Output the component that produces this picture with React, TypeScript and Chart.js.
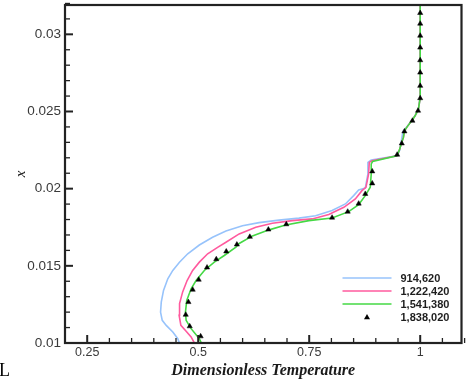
import React, { useEffect, useRef } from "react";
import { Chart, registerables } from "chart.js";

Chart.register(...registerables);

// ---- Data (Dimensionless Temperature, x) ----
const seriesNames = ["914,620", "1,222,420", "1,541,380", "1,838,020"];
const seriesColors = ["#97C3FB", "#FF5A9E", "#45D845", "#000000"];

const mesh914620: [number, number][] = [
  [0.4578, 0.0100], [0.4540, 0.01028], [0.4428, 0.01071], [0.4280, 0.01114],
  [0.4190, 0.01147], [0.4152, 0.0120], [0.4168, 0.01265], [0.4219, 0.01341],
  [0.4315, 0.01416], [0.4428, 0.0147], [0.4578, 0.01523], [0.4764, 0.01578],
  [0.5026, 0.01635], [0.5324, 0.01685], [0.5625, 0.01725], [0.5997, 0.01760],
  [0.6372, 0.01780], [0.6820, 0.01796], [0.7268, 0.01809], [0.7643, 0.01825],
  [0.8015, 0.01858], [0.8315, 0.01901], [0.8501, 0.01955], [0.8614, 0.01991],
  [0.8763, 0.02004], [0.8822, 0.02095], [0.8822, 0.02170], [0.8897, 0.02185],
  [0.9473, 0.02213], [0.9540, 0.02250], [0.9570, 0.02300], [0.9610, 0.02370],
  [0.9720, 0.02407], [0.9809, 0.0244], [0.9884, 0.02472], [0.9959, 0.02515],
  [1.0, 0.0259], [1.0, 0.0319],
];

const mesh1222420: [number, number][] = [
  [0.4914, 0.0100], [0.4840, 0.01039], [0.4728, 0.01076], [0.4610, 0.01114],
  [0.4570, 0.01180], [0.4580, 0.01255], [0.4650, 0.01331], [0.4750, 0.01405],
  [0.4875, 0.0147], [0.5026, 0.01524], [0.5213, 0.01578], [0.5437, 0.0162],
  [0.5625, 0.01653], [0.5923, 0.01707], [0.6297, 0.0175], [0.6670, 0.01776],
  [0.7118, 0.01793], [0.7567, 0.01804], [0.7941, 0.01832], [0.8280, 0.01879],
  [0.8539, 0.01933], [0.8688, 0.01987], [0.8778, 0.02008], [0.8838, 0.02095],
  [0.8853, 0.0217], [0.8912, 0.02181], [0.9473, 0.02213], [0.9526, 0.02246],
  [0.9585, 0.0230], [0.9622, 0.02332], [0.9645, 0.02375], [0.9720, 0.02407],
  [0.9809, 0.0244], [0.9884, 0.02472], [0.9959, 0.02515], [1.0, 0.0259],
  [1.0, 0.0319],
];

const mesh1541380: [number, number][] = [
  [0.5070, 0.0100], [0.5026, 0.01028], [0.4840, 0.01093], [0.4728, 0.01147],
  [0.4713, 0.0120], [0.4742, 0.01276], [0.4840, 0.01351], [0.4952, 0.01405],
  [0.5138, 0.0147], [0.5363, 0.01524], [0.5587, 0.01567], [0.5849, 0.01621],
  [0.5923, 0.01645], [0.6222, 0.01694], [0.6596, 0.01733], [0.6970, 0.01765],
  [0.7493, 0.01793], [0.8015, 0.0181], [0.8389, 0.01851], [0.8614, 0.01897],
  [0.8763, 0.01955], [0.8875, 0.02009], [0.8897, 0.02095], [0.8897, 0.0216],
  [0.8927, 0.02176], [0.9473, 0.02213], [0.9526, 0.02246], [0.9585, 0.0230],
  [0.9622, 0.02332], [0.9645, 0.02375], [0.9720, 0.02407], [0.9809, 0.0244],
  [0.9884, 0.02472], [0.9959, 0.02515], [1.0, 0.0259], [1.0, 0.0319],
];

const mesh1838020: [number, number][] = [
  [0.5055, 0.01043], [0.4809, 0.01108], [0.4719, 0.01183], [0.4780, 0.01265],
  [0.4876, 0.01345], [0.5011, 0.0141], [0.5199, 0.01489], [0.5407, 0.01543],
  [0.5632, 0.01593], [0.5871, 0.01638], [0.6163, 0.01688], [0.6580, 0.01735],
  [0.6984, 0.01769], [0.8015, 0.01812], [0.8367, 0.01851], [0.8614, 0.01903],
  [0.8763, 0.01966], [0.8920, 0.02034], [0.8920, 0.02112], [0.9481, 0.0222],
  [0.9585, 0.02293], [0.9645, 0.02371], [0.9824, 0.0244], [0.9952, 0.02505],
  [1.0, 0.02586], [1.0, 0.02666], [1.0, 0.02752], [1.0, 0.02832],
  [1.0, 0.02914], [1.0, 0.02991], [1.0, 0.03069], [1.0, 0.03138],
];

const xMajorTicks = [0.25, 0.5, 0.75, 1];
const xTickLabels = ["0.25", "0.5", "0.75", "1"];
const yMajorTicks = [0.01, 0.015, 0.02, 0.025, 0.03];
const yTickLabels = ["0.01", "0.015", "0.02", "0.025", "0.03"];
const xMinorStep = 0.05;
const yMinorStep = 0.001;
const xMin = 0.2;
const xMax = 1.093;
const yMin = 0.01;
const yMax = 0.0319;

const xTitle = "Dimensionless Temperature";
const yTitle = "x";

const toPoints = (arr: [number, number][]) => arr.map(([x, y]) => ({ x, y }));

const framePlugin = {
  id: "tecframe",
  afterDatasetsDraw(chart: any) {
    const { ctx, chartArea, scales } = chart;
    const { left, right, top, bottom } = chartArea;
    const xs = scales.x;
    const ys = scales.y;
    ctx.save();
    ctx.strokeStyle = "#222";
    ctx.lineCap = "butt";
    const isMajor = (v: number, majors: number[], eps: number) =>
      majors.some((m) => Math.abs(m - v) < eps);
    ctx.lineWidth = 1.3;
    const nx = Math.round((xMax - xMin) / xMinorStep);
    for (let i = 1; i <= nx; i++) {
      const v = xMin + i * xMinorStep;
      if (isMajor(v, xMajorTicks, 1e-6)) continue;
      const px = xs.getPixelForValue(v);
      ctx.beginPath();
      ctx.moveTo(px, bottom);
      ctx.lineTo(px, bottom - 5);
      ctx.stroke();
    }
    const ny = Math.round((yMax - yMin) / yMinorStep);
    for (let i = 1; i <= ny; i++) {
      const v = yMin + i * yMinorStep;
      if (isMajor(v, yMajorTicks, 1e-7)) continue;
      const py = ys.getPixelForValue(v);
      ctx.beginPath();
      ctx.moveTo(left, py);
      ctx.lineTo(left + 5, py);
      ctx.stroke();
    }
    ctx.lineWidth = 2;
    xMajorTicks.forEach((v) => {
      const px = xs.getPixelForValue(v);
      ctx.beginPath();
      ctx.moveTo(px, bottom);
      ctx.lineTo(px, bottom - 8);
      ctx.stroke();
    });
    yMajorTicks.forEach((v) => {
      const py = ys.getPixelForValue(v);
      ctx.beginPath();
      ctx.moveTo(left, py);
      ctx.lineTo(left + 8, py);
      ctx.stroke();
    });
    ctx.lineWidth = 2.2;
    ctx.strokeRect(left, top, right - left, bottom - top);

    // legend, in series order
    const ds = chart.data.datasets;
    const rowY = [bottom - 65, bottom - 52, bottom - 39, bottom - 26];
    const lx0 = right - 119;
    const lx1 = right - 70;
    const tx = right - 61;
    ctx.font = 'bold 11px "Liberation Sans", Arial, sans-serif';
    ctx.textBaseline = "middle";
    ctx.textAlign = "left";
    seriesNames.forEach((name, i) => {
      const d = ds.find((e: any) => e.label === name);
      if (!d) return;
      const y = rowY[i];
      if (d.showLine) {
        ctx.strokeStyle = d.borderColor;
        ctx.lineWidth = 1.6;
        ctx.beginPath();
        ctx.moveTo(lx0, y);
        ctx.lineTo(lx1, y);
        ctx.stroke();
      } else {
        const cx = (lx0 + lx1) / 2;
        const r = 3;
        ctx.fillStyle = "#000";
        ctx.beginPath();
        ctx.moveTo(cx, y - r);
        ctx.lineTo(cx + r, y + r * 0.75);
        ctx.lineTo(cx - r, y + r * 0.75);
        ctx.closePath();
        ctx.fill();
      }
      ctx.fillStyle = "#1e1e1e";
      ctx.fillText(d.label, tx, y + 0.5);
    });
    ctx.restore();
  },
};

export default function App() {
  const canvasRef = useRef<HTMLCanvasElement | null>(null);

  useEffect(() => {
    const canvas = canvasRef.current;
    if (!canvas) return;
    const chart = new Chart(canvas, {
      type: "scatter",
      data: {
        datasets: [
          {
            label: seriesNames[3],
            data: toPoints(mesh1838020),
            showLine: false,
            pointStyle: "triangle",
            pointRadius: 3,
            backgroundColor: seriesColors[3],
            borderColor: seriesColors[3],
            borderWidth: 0.5,
            order: 0,
          },
          {
            label: seriesNames[2],
            data: toPoints(mesh1541380),
            showLine: true,
            borderColor: seriesColors[2],
            backgroundColor: seriesColors[2],
            borderWidth: 1.6,
            pointRadius: 0,
            tension: 0,
            order: 1,
          },
          {
            label: seriesNames[1],
            data: toPoints(mesh1222420),
            showLine: true,
            borderColor: seriesColors[1],
            backgroundColor: seriesColors[1],
            borderWidth: 1.6,
            pointRadius: 0,
            tension: 0,
            order: 2,
          },
          {
            label: seriesNames[0],
            data: toPoints(mesh914620),
            showLine: true,
            borderColor: seriesColors[0],
            backgroundColor: seriesColors[0],
            borderWidth: 1.6,
            pointRadius: 0,
            tension: 0,
            order: 3,
          },
        ],
      },
      options: {
        animation: false,
        responsive: false,
        events: [],
        layout: { padding: { top: 5, right: 3, left: 0, bottom: 0 } },
        plugins: {
          legend: { display: false },
          tooltip: { enabled: false },
        },
        scales: {
          x: {
            type: "linear",
            position: "bottom",
            min: xMin,
            max: xMax,
            grid: { display: false, drawTicks: false },
            border: { display: false },
            afterBuildTicks: (scale: any) => {
              scale.ticks = xMajorTicks.map((v) => ({ value: v }));
            },
            afterFit: (scale: any) => {
              scale.height = 40;
              scale.paddingLeft = 0;
              scale.paddingRight = 0;
            },
            ticks: {
              autoSkip: false,
              maxRotation: 0,
              padding: 2,
              color: "#3a3a3a",
              font: { family: '"Liberation Sans", Arial, sans-serif', size: 12.5 },
              callback: (v: any) => {
                const idx = xMajorTicks.findIndex((m) => Math.abs(m - v) < 1e-9);
                return idx >= 0 ? xTickLabels[idx] : "";
              },
            },
            title: {
              display: true,
              text: xTitle,
              color: "#1a1a1a",
              padding: { top: 0, bottom: 3 },
              font: {
                family: '"Liberation Serif", "Times New Roman", serif',
                size: 16,
                weight: "bold",
                style: "italic",
              },
            },
          },
          y: {
            type: "linear",
            position: "left",
            min: yMin,
            max: yMax,
            grid: { display: false, drawTicks: false },
            border: { display: false },
            afterBuildTicks: (scale: any) => {
              scale.ticks = yMajorTicks.map((v) => ({ value: v }));
            },
            afterFit: (scale: any) => {
              scale.width = 65;
              scale.paddingTop = 0;
              scale.paddingBottom = 0;
            },
            ticks: {
              autoSkip: false,
              padding: 4,
              color: "#3a3a3a",
              font: { family: '"Liberation Sans", Arial, sans-serif', size: 13.5 },
              callback: (v: any) => {
                const idx = yMajorTicks.findIndex((m) => Math.abs(m - v) < 1e-9);
                return idx >= 0 ? yTickLabels[idx] : "";
              },
            },
            title: {
              display: true,
              text: yTitle,
              color: "#1a1a1a",
              padding: { top: 12, bottom: 0 },
              font: {
                family: '"Liberation Serif", "Times New Roman", serif',
                size: 15,
                style: "italic",
              },
            },
          },
        },
      },
      plugins: [framePlugin],
    } as any);
    return () => chart.destroy();
  }, []);

  return (
    <div
      style={{
        position: "fixed",
        left: 0,
        top: 0,
        width: 466,
        height: 383,
        background: "#fff",
        overflow: "hidden",
      }}
    >
      <canvas ref={canvasRef} width={466} height={383} style={{ display: "block" }} />
      <span
        style={{
          position: "absolute",
          left: -1,
          top: 360,
          fontFamily: '"Liberation Serif", "Times New Roman", serif',
          fontSize: 18,
          lineHeight: "20px",
          color: "#000",
        }}
      >
        L
      </span>
    </div>
  );
}
